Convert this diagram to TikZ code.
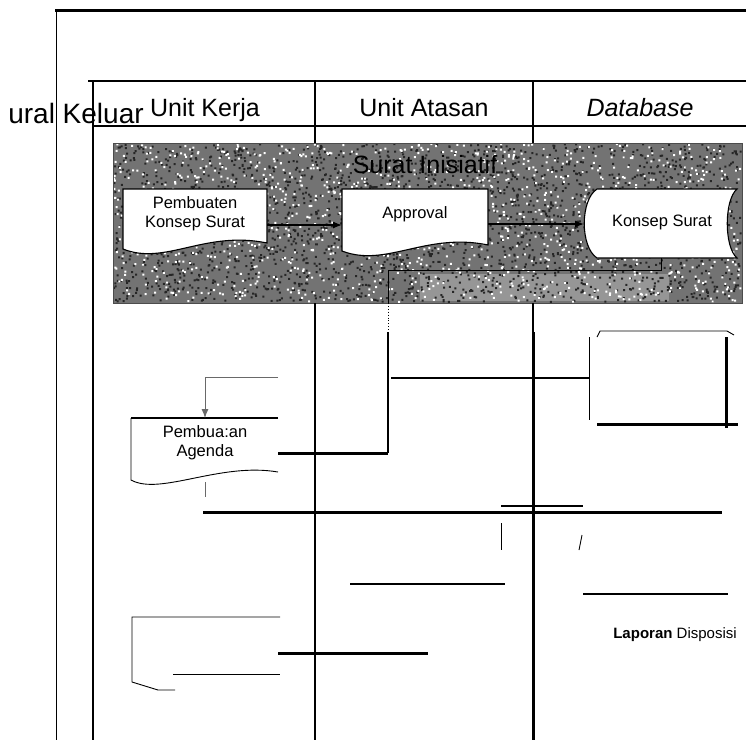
\documentclass[tikz,border=0pt]{standalone}
\usepackage{fontspec}
\setmainfont{Liberation Sans}
\usetikzlibrary{arrows.meta,positioning}
\definecolor{NoiseGray}{RGB}{115,115,115}
\definecolor{CheckGray}{RGB}{150,150,150}
\definecolor{FeedGray}{RGB}{105,105,105}

\begin{document}
\begin{tikzpicture}[x=1pt,y=-1pt,>={Latex[length=9pt,width=7pt]},
  lane/.style={line width=1.1pt},
  heavy/.style={line width=3pt},
  fineline/.style={line width=0.9pt},
  docline/.style={draw,fill=white,line width=1.1pt},
  head/.style={font=\fontsize{25}{27}\selectfont,anchor=base},
  doctext/.style={font=\fontsize{16.5}{19}\selectfont,align=center}]
\useasboundingbox (0,0) rectangle (746,740);
% outer frame
\draw[heavy] (55,10) -- (746,10);
\draw[fineline] (56,10) -- (56,740);
% swimlane heading
\draw[lane] (88,81) -- (746,81);
\draw[lane] (93,81) -- (93,740);
\draw[lane] (93,126) -- (746,126);
\draw[lane] (315,81) -- (315,143) (533,81) -- (533,143);
\node[head,font=\fontsize{28}{30}\selectfont] (keluar) at (76,123) {ural Keluar};
\node[head] (kerja) at (205,116) {Unit Kerja};
\node[head] (atasan) at (424,116) {Unit Atasan};
\node[head] (db) at (640,116) {\itshape Database};

% scanned group box
\fill[NoiseGray] (113,143) rectangle (742,303);
\fill[CheckGray] (420,274) rectangle (669,301);
\pgfmathsetseed{11}
\fill[black!85] \foreach \i in {1,...,2600}{({113+627*rnd},{143+158*rnd}) rectangle ++(2,2)};
\fill[white] \foreach \i in {1,...,1300}{({113+627*rnd},{143+158*rnd}) rectangle ++(2,2)};
\draw[fineline,black!70] (113,143) rectangle (742,303);
\node[head] (inisiatif) at (425,173) {Surat Inisiatif};

% documents in the box
\draw[docline] (123,189) -- (267,189) -- (267,243)
  .. controls (205,230) and (165,266) .. (123,249) -- cycle;
\node[doctext] (buatkonsep) at (195,214) {Pembuaten\\Konsep Surat};
\draw[docline] (342,189) -- (488,189) -- (488,245)
  .. controls (426,232) and (386,268) .. (342,251) -- cycle;
\node[doctext] (approval) at (415,214) {Approval};
\draw[docline] (597,189) -- (737,189) .. controls (724,200) and (724,247) .. (737,258)
  -- (597,258) .. controls (580,247) and (580,200) .. (597,189) -- cycle;
\node[doctext] (konsep) at (662,222) {Konsep Surat};

\coordinate (buatkonsep-out) at (267,225);
\coordinate (approval-in) at (342,225);
\coordinate (approval-out) at (488,224);
\coordinate (konsep-in) at (584,224);
\coordinate (konsep-s) at (661,258);
\draw[->,line width=1.3pt] (buatkonsep-out) -- (approval-in);
\draw[->,line width=1.3pt] (approval-out) -- (konsep-in);
\draw[fineline] (konsep-s) -- (661,270) -| (388,303);

% lanes below the box
\draw[lane] (315,303) -- (315,740);
\draw[lane] (533,303) -- (533,332);
\draw[heavy] (533,332) -- (533,740);
\draw[fineline,dotted] (388,303) -- (388,332);

% Pembuatan Agenda
\draw[line width=1.5pt] (278,418) -- (131,418);
\draw[fineline] (131,418) -- (131,480) .. controls (160,496) and (220,462) .. (278,472);
\node[doctext] (agenda) at (205,443) {Pembua:an\\Agenda};
\coordinate (agenda-feed) at (278,377);
\coordinate (agenda-top) at (205,418);
\draw[->,fineline,FeedGray] (agenda-feed) -| (agenda-top);
\draw[fineline,FeedGray] (205,482) -- (205,497);
\coordinate (agenda-out) at (278,453);
\draw[line width=2pt] (388,332) -- (388,453);
\draw[heavy] (agenda-out) -- (388,453);

% right side fragments
\draw[lane] (391,378) -- (589,378);
\draw[fineline] (589,337) -- (589,420);
\draw[fineline] (597,337) -- (600,331) -- (727,331) -- (734,335);
\draw[heavy] (726,337) -- (726,428);
\draw[heavy] (597,424) -- (738,424);

% middle fragments
\draw[heavy] (203,512) -- (722,512);
\draw[lane] (501,506) -- (583,506);
\draw[fineline] (501,523) -- (501,550);
\draw[fineline] (582,535) -- (579,550);
\draw[lane] (350,584) -- (505,584);
\draw[line width=2pt] (583,594) -- (728,594);

% lower left fragments
\draw[fineline] (280,617) -- (132,617) -- (132,682) -- (158,690) -- (175,690);
\draw[fineline] (173,674) -- (280,674);
\draw[heavy] (278,653) -- (428,653);
\node[font=\fontsize{15}{18}\selectfont,anchor=base] (laporan) at (675,638) {\textbf{Laporan} Disposisi};
\end{tikzpicture}
\end{document}
